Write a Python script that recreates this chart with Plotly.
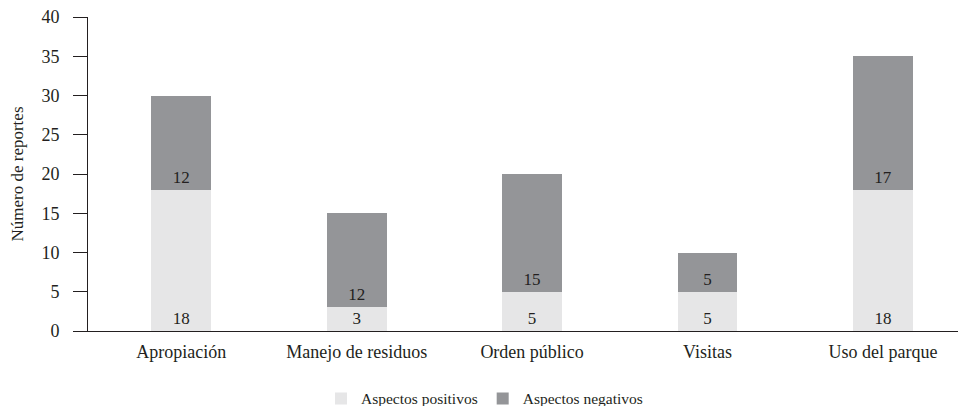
import plotly.graph_objects as go

categories = ["Apropiación", "Manejo de residuos", "Orden público", "Visitas", "Uso del parque"]
positivos = [18, 3, 5, 5, 18]
negativos = [12, 12, 15, 5, 17]
y_ticks = [0, 5, 10, 15, 20, 25, 30, 35, 40]

FONT = "Liberation Serif"
TXT = "#231f20"

W, H = 958, 398  # page body has an 8px margin

fig = go.Figure()
for name, vals, color in [("Aspectos positivos", positivos, "#e6e6e7"),
                          ("Aspectos negativos", negativos, "#949598")]:
    fig.add_trace(go.Bar(
        x=categories, y=vals, name=name,
        marker=dict(color=color, line=dict(width=0)),
        text=vals, textposition="inside", insidetextanchor="start",
        textangle=0, constraintext="none",
        textfont=dict(family=FONT, size=17, color=TXT),
        width=0.34,
    ))

fig.update_layout(
    barmode="stack",
    width=W, height=H,
    margin=dict(l=80, r=1, t=9, b=75, autoexpand=False),
    paper_bgcolor="white", plot_bgcolor="white",
    font=dict(family=FONT, color=TXT, size=17),
    showlegend=True,
    legend=dict(orientation="h", xref="container", x=313 / W, xanchor="left",
                yref="container", y=0.018, yanchor="middle",
                font=dict(family=FONT, size=15.5, color=TXT),
                traceorder="normal"),
)
fig.update_xaxes(
    range=[-0.532, 4.468], showline=True, linecolor=TXT, linewidth=1,
    ticks="", showgrid=False, tickfont=dict(family=FONT, size=18, color=TXT),
    ticklabelstandoff=4,
    fixedrange=True, automargin=False,
)
fig.update_yaxes(
    range=[0, 40.02], tickvals=y_ticks, showline=True, linecolor=TXT, linewidth=1,
    ticks="outside", ticklen=14, tickcolor=TXT, tickwidth=1, showgrid=False,
    zeroline=False, tickfont=dict(family=FONT, size=18, color=TXT),
    ticklabelstandoff=10, ticklabeloverflow="allow",
    title=dict(text="Número de reportes", font=dict(family=FONT, size=17, color=TXT), standoff=14),
    fixedrange=True, automargin=False,
)

fig.write_html("out.html")
